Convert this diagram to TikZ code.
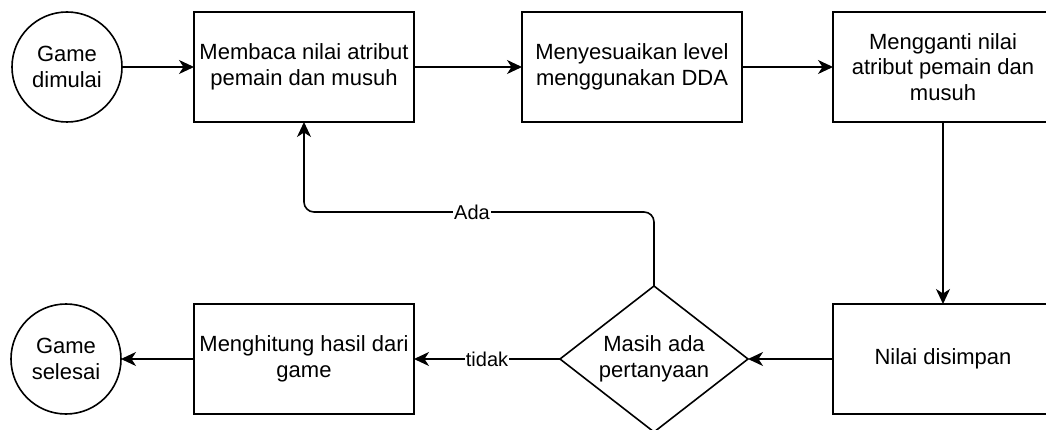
\documentclass[tikz,border=0pt]{standalone}
\usepackage{fontspec}
\setmainfont{Liberation Sans}
\usepackage{tikz}
\usetikzlibrary{positioning, arrows.meta, shapes.geometric}
\definecolor{flowline}{RGB}{0,0,0}

\tikzset{
    proc/.style={draw=flowline, line width=1.6pt, fill=white, minimum width=220pt, minimum height=110pt, inner sep=1pt, outer sep=0pt, align=center, font=\fontsize{22}{25.5}\selectfont},
    term/.style={draw=flowline, circle, line width=1.6pt, fill=white, minimum size=110pt, inner sep=0pt, outer sep=0pt, align=center, font=\fontsize{22}{25.5}\selectfont},
    decide/.style={draw=flowline, diamond, shape aspect=1.3, line width=1.6pt, fill=white, minimum width=188pt, minimum height=146pt, inner sep=0pt, outer sep=0pt, align=center, font=\fontsize{22}{25.5}\selectfont},
    arr/.style={-{Stealth[length=15pt, width=14pt, inset=4.5pt]}, line width=1.6pt, color=flowline},
    lbl/.style={fill=white, inner sep=1pt, font=\fontsize{20}{22}\selectfont}
}

\begin{document}
\begin{tikzpicture}[x=1pt, y=1pt]
    \useasboundingbox (0,0) rectangle (1046,-430);
    \clip (0,0) rectangle (1046,-430);
    \node[proc] (baca) at (304,-67) {Membaca nilai atribut\\pemain dan musuh};
    \node[term, left = 72pt of baca] (mulai) {Game\\dimulai};
    \node[proc, right = 108pt of baca] (dda) {Menyesuaikan level\\menggunakan DDA};
    \node[proc, right = 91pt of dda] (ganti) {Mengganti nilai\\atribut pemain dan\\musuh};
    \node[proc, below = 182pt of ganti] (simpan) {Nilai disimpan};
    \node[decide, left = 85pt of simpan] (cek) {Masih ada\\pertanyaan};
    \node[proc, left = 146pt of cek] (hitung) {Menghitung hasil dari\\game};
    \node[term, left = 73pt of hitung] (selesai) {Game\\selesai};
    \coordinate[above = 74pt of cek.north] (belok);
    \draw[arr] (mulai) -- (baca);
    \draw[arr] (baca) -- (dda);
    \draw[arr] (dda) -- (ganti);
    \draw[arr] (ganti) -- (simpan);
    \draw[arr] (simpan) -- (cek);
    \draw[arr] (cek) -- node[lbl] {tidak} (hitung);
    \draw[arr] (hitung) -- (selesai);
    \draw[arr, rounded corners=10pt] (cek.north) -- (belok) -| node[lbl, pos=0.26] {Ada} (baca.south);
\end{tikzpicture}
\end{document}
